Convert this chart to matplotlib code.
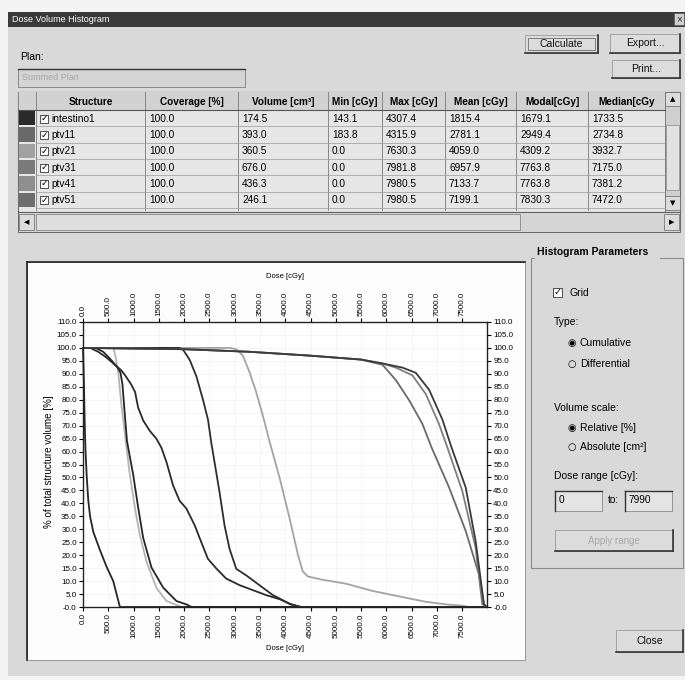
import matplotlib
matplotlib.use("Agg")
import matplotlib.pyplot as plt
from matplotlib.patches import Rectangle
from matplotlib.lines import Line2D

plt.rcParams['font.family'] = ['Liberation Sans', 'DejaVu Sans']

# ---------------- data ----------------
structures = ['intestino1', 'ptv11', 'ptv21', 'ptv31', 'ptv41', 'ptv51']
coverage = [100.0, 100.0, 100.0, 100.0, 100.0, 100.0]
volume = [174.5, 393.0, 360.5, 676.0, 436.3, 246.1]
min_dose = [143.1, 183.8, 0.0, 0.0, 0.0, 0.0]
max_dose = [4307.4, 4315.9, 7630.3, 7981.8, 7980.5, 7980.5]
mean_dose = [1815.4, 2781.1, 4059.0, 6957.9, 7133.7, 7199.1]
modal_dose = [1679.1, 2949.4, 4309.2, 7763.8, 7763.8, 7830.3]
median_dose = [1733.5, 2734.8, 3932.7, 7175.0, 7381.2, 7472.0]
swatch_colors = ['#2a2a2a', '#6a6a6a', '#a2a2a2', '#7a7a7a', '#8e8e8e', '#6e6e6e']

column_headers = ['Structure', 'Coverage [%]', 'Volume [cm³]', 'Min [cGy]', 'Max [cGy]',
                  'Mean [cGy]', 'Modal[cGy]', 'Median[cGy']

# DVH curves (dose in cGy, volume in %)
intestino1_dose = [0, 143, 300, 450, 600, 750, 830, 950, 1030, 1090, 1190, 1320, 1450, 1550,
                   1650, 1780, 1910, 2045, 2210, 2340, 2470, 2640, 2830, 3100, 3360, 3620,
                   3890, 4100, 4307, 7990]
intestino1_vol = [100, 100, 98.5, 96.5, 94, 91.5, 89.5, 86, 83, 77, 72, 68, 65, 61.5,
                  56, 47, 41, 38, 31.5, 25, 18.6, 14.8, 11, 8.4, 6.5, 4.6,
                  3.0, 1.2, 0, 0]
ptv11_dose = [0, 1900, 1980, 2110, 2243, 2373, 2472, 2538, 2604, 2702, 2801, 2899, 3032,
              3229, 3491, 3754, 3886, 4100, 4316, 7990]
ptv11_vol = [100, 100, 99.3, 95.4, 89, 80, 72.3, 63.3, 55.6, 44.1, 31.3, 22.4, 14.7,
             12.2, 8.4, 4.6, 3.3, 1.0, 0, 0]
ptv21_dose = [0, 2900, 3032, 3163, 3294, 3426, 3557, 3688, 3886, 4083, 4248, 4345, 4444,
              4740, 5201, 5726, 6252, 6779, 7239, 7501, 7630, 7990]
ptv21_vol = [100, 100, 99.5, 97, 90.6, 82.9, 73.9, 64, 50, 34.5, 20.4, 13.8, 11.8,
             10.5, 9.0, 6.2, 4.1, 2.0, 0.9, 0.5, 0, 0]
ptv31_dose = [0, 2000, 3300, 4500, 5500, 5923, 6187, 6450, 6712, 6893, 7239, 7568, 7830,
              7929, 7982, 7990]
ptv31_vol = [100, 99.5, 98.5, 97, 95.5, 93.5, 87.6, 79.8, 70.7, 61.6, 46.2, 29.4, 12.6,
             1.1, 0, 0]
ptv41_dose = [0, 2000, 3300, 4500, 5500, 5923, 6187, 6515, 6779, 7041, 7206, 7501, 7764,
              7896, 7980, 7990]
ptv41_vol = [100, 99.5, 98.5, 97, 95.5, 94, 92.4, 89.4, 82.2, 70.6, 61.6, 44.8, 22.9,
             1.1, 0, 0]
ptv51_dose = [0, 2000, 3300, 4500, 5500, 5923, 6318, 6581, 6844, 7107, 7288, 7568, 7764,
              7929, 7980, 7990]
ptv51_vol = [100, 99.5, 98.5, 97, 95.5, 94, 92.4, 90.4, 83.9, 72.4, 61.6, 46.2, 25.6,
             1.1, 0, 0]
# further structures (rows scrolled out of the table)
extra_a_dose = [0, 20, 35, 50, 75, 105, 140, 203, 335, 467, 598, 730, 7990]
extra_a_vol = [100, 85, 70, 60, 50, 41, 35, 29, 22, 15.5, 10, 0, 0]
extra_b_dose = [0, 250, 400, 550, 680, 740, 780, 820, 870, 993, 1092, 1190, 1355, 1585,
                1848, 2045, 2150, 7990]
extra_b_vol = [100, 100, 98.5, 95.5, 92.5, 90.5, 86, 76, 64, 51, 38.3, 26.7, 15.2, 7.5,
               2.3, 1.0, 0, 0]
extra_c_dose = [0, 600, 640, 700, 760, 845, 927, 1026, 1124, 1256, 1454, 1651, 1848, 1950, 7990]
extra_c_vol = [100, 100, 97, 90, 78, 64, 51, 38.3, 27.8, 17.5, 7.3, 2.3, 0.8, 0, 0]

x_ticks = list(range(0, 8000, 500))
y_ticks = list(range(0, 115, 5))

# ---------------- figure ----------------
W, H = 685, 680
fig = plt.figure(figsize=(W / 100, H / 100), dpi=100)
fig.patch.set_facecolor('#f4f4f4')


def fx(x):
    return x / W


def fy(y):
    return 1 - y / H


def rect(x0, y0, x1, y1, fc, ec='none', lw=0.8, z=1):
    fig.add_artist(Rectangle((fx(x0), fy(y1)), (x1 - x0) / W, (y1 - y0) / H,
                             transform=fig.transFigure, facecolor=fc, edgecolor=ec,
                             lw=lw, zorder=z))


def line(x0, y0, x1, y1, c='#333333', lw=0.8, z=2):
    fig.add_artist(Line2D([fx(x0), fx(x1)], [fy(y0), fy(y1)], transform=fig.transFigure,
                          color=c, lw=lw, zorder=z))


def text(x, y, s, size=7.5, ha='left', va='center', **kw):
    fig.text(fx(x), fy(y), s, fontsize=size, ha=ha, va=va, **kw)


def button(x0, y0, x1, y1, label, tc='#111111', size=7.5):
    rect(x0, y0, x1, y1, '#dcdcdc', ec='#9a9a9a', lw=0.6)
    line(x0, y1, x1, y1, '#333333', 1.2)
    line(x1, y0, x1, y1, '#333333', 1.2)
    text((x0 + x1) / 2, (y0 + y1) / 2, label, size=size, ha='center', color=tc)


# dialog body
rect(8, 12, 685, 676, '#d9d9d9')
# title bar
rect(8, 12, 685, 27, '#3a3a3a')
text(12, 19.5, 'Dose Volume Histogram', size=6.5, color='white')
rect(674, 13, 684, 25, '#d0d0d0', ec='#555555', lw=0.5)
text(679, 19, '×', size=7, ha='center', color='#222222')

# buttons top
button(525, 35, 598, 53, 'Calculate')
rect(528, 38, 595, 50, 'none', ec='#555555', lw=0.5, z=3)
button(610, 34, 680, 53, 'Export...')
button(612, 60, 680, 78, 'Print...')

# plan
text(20, 57, 'Plan:', size=7.5)
rect(18, 69, 245, 87, '#d4d4d4', ec='#8a8a8a', lw=0.7)
line(18, 69, 245, 69, '#333333', 1.0)
text(22, 78, 'Summed Plan', size=6.5, color='#a8a8a8')

# ---------------- table ----------------
col_x = [18, 36, 145, 238, 328, 382, 445, 516, 588, 665]
header_top, header_bot = 92, 110
row_h = 16.3
rect(18, 92, 680, 212, '#e6e6e6', ec='#444444', lw=0.8)
rect(18, header_top, 665, header_bot, '#d2d2d2')
for i, h in enumerate(column_headers):
    xc = (col_x[i + 1] + (col_x[i + 2] if i + 2 < len(col_x) else 665)) / 2
    text(xc, (header_top + header_bot) / 2 + 1, h, size=7.2, ha='center', weight='bold')
for xv in col_x:
    line(xv, header_top, xv, 210, '#7a7a7a', 0.6)
line(18, header_bot, 665, header_bot, '#555555', 0.8)
for r in range(len(structures)):
    yt = header_bot + r * row_h
    yc = yt + row_h / 2 + 0.5
    line(36, yt + row_h, 665, yt + row_h, '#9a9a9a', 0.5)
    rect(19, yt + 1, 35, yt + row_h - 1, swatch_colors[r])
    rect(40, yc - 4, 48, yc + 4, 'white', ec='#333333', lw=0.6, z=3)
    text(44, yc, '✓', size=6.5, ha='center', weight='bold', family='DejaVu Sans')
    text(51, yc, structures[r], size=7.3)
    vals = [coverage[r], volume[r], min_dose[r], max_dose[r], mean_dose[r],
            modal_dose[r], median_dose[r]]
    for j, v in enumerate(vals):
        text(col_x[j + 2] + 4, yc, f'{v:.1f}', size=7.3)
# vertical scrollbar
rect(665, 92, 680, 212, '#cfcfcf', ec='#666666', lw=0.5)
rect(665, 92, 680, 106, '#dcdcdc', ec='#666666', lw=0.5)
text(672.5, 99, '▲', size=5, ha='center', family='DejaVu Sans')
rect(665, 196, 680, 210, '#dcdcdc', ec='#666666', lw=0.5)
text(672.5, 203, '▼', size=5, ha='center', family='DejaVu Sans')
rect(666, 125, 679, 190, '#e2e2e2', ec='#888888', lw=0.5)
# horizontal scrollbar
rect(18, 212, 680, 232, '#d5d5d5', ec='#555555', lw=0.6)
rect(19, 214, 34, 230, '#dcdcdc', ec='#666666', lw=0.5)
text(26.5, 222, '◀', size=5, ha='center', family='DejaVu Sans')
rect(36, 214, 520, 230, '#dedede', ec='#777777', lw=0.5)
rect(664, 214, 679, 230, '#dcdcdc', ec='#666666', lw=0.5)
text(671.5, 222, '▶', size=5, ha='center', family='DejaVu Sans')

# ---------------- right parameter panel ----------------
rect(531, 258, 683, 568, 'none', ec='#8a8a8a', lw=0.8)
rect(535, 245, 660, 260, '#d9d9d9', z=2)
text(537, 252, 'Histogram Parameters', size=7.5, weight='bold', zorder=3)
rect(553, 288, 562, 297, 'white', ec='#333333', lw=0.6, z=3)
text(557.5, 292.5, '✓', size=7, ha='center', weight='bold', family='DejaVu Sans')
text(569, 292.5, 'Grid', size=7.5)
text(554, 322, 'Type:', size=7.5)
text(572, 343, '◉', size=7, ha='center', family='DejaVu Sans')
text(580, 343, 'Cumulative', size=7.5)
text(572, 364, '○', size=7, ha='center', family='DejaVu Sans')
text(580, 364, 'Differential', size=7.5)
text(554, 408, 'Volume scale:', size=7.5)
text(572, 428, '◉', size=7, ha='center', family='DejaVu Sans')
text(580, 428, 'Relative [%]', size=7.5)
text(572, 447, '○', size=7, ha='center', family='DejaVu Sans')
text(580, 447, 'Absolute [cm²]', size=7.5)
text(554, 476, 'Dose range [cGy]:', size=7.5)
rect(555, 491, 602, 511, '#e4e4e4', ec='#888888', lw=0.6)
line(555, 491, 602, 491, '#333333', 1.0)
line(555, 491, 555, 511, '#333333', 1.0)
text(559, 500, '0', size=7.3)
text(608, 500, 'to:', size=7.3)
rect(625, 491, 672, 511, '#e4e4e4', ec='#888888', lw=0.6)
line(625, 491, 672, 491, '#333333', 1.0)
line(625, 491, 625, 511, '#333333', 1.0)
text(629, 500, '7990', size=7.3)
button(555, 530, 673, 551, 'Apply range', tc='#a8a8a8', size=7)
button(616, 630, 683, 652, 'Close')

# ---------------- chart panel ----------------
rect(27, 262, 525, 660, '#fdfdfd', ec='#888888', lw=0.6)
line(27, 262, 525, 262, '#222222', 1.2)
line(27, 262, 27, 660, '#222222', 1.2)

ax_l, ax_r, ax_t, ax_b = 83, 487, 322, 607
ax = fig.add_axes([fx(ax_l), fy(ax_b), (ax_r - ax_l) / W, (ax_b - ax_t) / H])
ax.set_zorder(10)
ax.set_facecolor('white')
ax.set_xlim(0, 7990)
ax.set_ylim(0, 110)

curves = [
    (extra_c_dose, extra_c_vol, '#b4b4b4'),
    (ptv21_dose, ptv21_vol, '#a4a4a4'),
    (extra_a_dose, extra_a_vol, '#262626'),
    (extra_b_dose, extra_b_vol, '#262626'),
    (intestino1_dose, intestino1_vol, '#2a2a2a'),
    (ptv11_dose, ptv11_vol, '#2e2e2e'),
    (ptv31_dose, ptv31_vol, '#6a6a6a'),
    (ptv41_dose, ptv41_vol, '#7e7e7e'),
    (ptv51_dose, ptv51_vol, '#3a3a3a'),
]
for d, v, c in curves:
    ax.plot(d, v, color=c, lw=1.3, solid_joinstyle='round', clip_on=False)

ax.set_xticks(x_ticks)
ax.set_xticklabels([f'{t:.1f}' for t in x_ticks])
ax.set_yticks(y_ticks)
ylabels = [f'{t:.1f}' for t in y_ticks]
ylabels[0] = '-0.0'
ax.set_yticklabels(ylabels)
ax.grid(True, color='#f2f2f2', lw=0.5)
ax.set_axisbelow(True)
ax.tick_params(axis='both', direction='out', length=3, width=0.8, labelsize=5.8,
               top=True, right=True, labeltop=True, labelright=True, pad=1.5)
ax.tick_params(axis='x', labelrotation=90)
for s in ax.spines.values():
    s.set_linewidth(1.0)
    s.set_color('#222222')

fig.text(fx((ax_l + ax_r) / 2), fy(277), 'Dose [cGy]', fontsize=5.5, ha='center', va='center', zorder=11)
fig.text(fx((ax_l + ax_r) / 2), fy(648), 'Dose [cGy]', fontsize=5.5, ha='center', va='center', zorder=11)
fig.text(fx(49), fy(462), '% of total structure volume [%]', fontsize=7, rotation=90,
         ha='center', va='center', zorder=11)

fig.savefig('out.png', dpi=100, facecolor=fig.get_facecolor())
